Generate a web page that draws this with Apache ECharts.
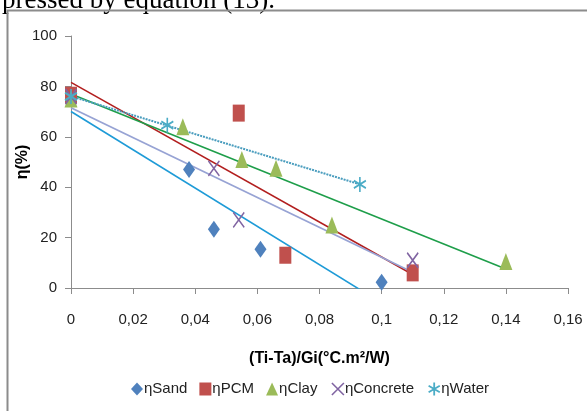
<!DOCTYPE html>
<html><head><meta charset="utf-8">
<script src="https://cdn.jsdelivr.net/npm/echarts@6/dist/echarts.min.js"></script>
<style>html,body{margin:0;padding:0;background:#fff}#c{width:587px;height:411px}</style>
</head><body><div id="c"></div>
<script>
// Data
var sandX = [0, 0.038, 0.046, 0.061, 0.100];
var sandY = [76, 47, 23.3, 15.4, 2.3];
var pcmX = [0, 0.054, 0.069, 0.110];
var pcmY = [76.5, 69.4, 13, 6];
var clayX = [0, 0.036, 0.055, 0.066, 0.084, 0.140];
var clayY = [75, 64, 51, 47.5, 25, 10.5];
var concreteX = [0, 0.046, 0.054, 0.110];
var concreteY = [76, 47.5, 27, 11];
var waterX = [0, 0.031, 0.093];
var waterY = [76, 64.6, 41.1];
var seriesNames = ['ηSand', 'ηPCM', 'ηClay', 'ηConcrete', 'ηWater'];
var xTicks = ['0', '0,02', '0,04', '0,06', '0,08', '0,1', '0,12', '0,14', '0,16'];
var yTicks = ['0', '20', '40', '60', '80', '100'];

function pairs(xs, ys) { return xs.map(function (x, i) { return [x, ys[i]]; }); }
// Linear least-squares trendline (as the spreadsheet trendline does), drawn from x=0 to last x
function trend(xs, ys) {
  var n = xs.length, mx = 0, my = 0;
  for (var i = 0; i < n; i++) { mx += xs[i]; my += ys[i]; }
  mx /= n; my /= n;
  var sxx = 0, sxy = 0;
  for (var j = 0; j < n; j++) { sxx += (xs[j] - mx) * (xs[j] - mx); sxy += (xs[j] - mx) * (ys[j] - my); }
  var b = sxy / sxx, a = my - b * mx;
  var x0 = 0, x1 = Math.max.apply(null, xs);
  return [[x0, a + b * x0], [x1, a + b * x1]];
}

var F = "'Liberation Sans',Arial,sans-serif";
var xPath = 'path://M0,0L10,10M10,0L0,10';
var starPath = 'path://M5,0L5,10M0.7,2.5L9.3,7.5M0.7,7.5L9.3,2.5';

var markerDefs = [
  {x: sandX, y: sandY, symbol: 'diamond', size: [12, 17], style: {color: '#4F81BD'}, line: '#1E9BD7', dash: 'solid', w: 1.6},
  {x: pcmX, y: pcmY, symbol: 'rect', size: [12, 17], style: {color: '#C0504D'}, line: '#B21E1E', dash: 'solid', w: 1.6},
  {x: clayX, y: clayY, symbol: 'triangle', size: [13, 17], style: {color: '#9BBB59'}, line: '#1E9E4A', dash: 'solid', w: 1.6},
  {x: concreteX, y: concreteY, symbol: xPath, size: [11, 15], style: {color: 'none', borderColor: '#8064A2', borderWidth: 1.6}, line: '#97A3D4', dash: 'solid', w: 1.8},
  {x: waterX, y: waterY, symbol: starPath, size: [12, 15], style: {color: 'none', borderColor: '#4BACC6', borderWidth: 1.8}, line: '#4A9DBE', dash: [2, 1], w: 2}
];

var series = [];
markerDefs.forEach(function (d, i) {
  series.push({
    name: seriesNames[i], type: 'line', data: trend(d.x, d.y), showSymbol: false, symbol: 'none',
    lineStyle: {color: d.line, width: d.w, type: d.dash}, silent: true, z: 2, clip: true
  });
});
markerDefs.forEach(function (d, i) {
  series.push({
    name: seriesNames[i], type: 'scatter', data: pairs(d.x, d.y), symbol: d.symbol, symbolSize: d.size,
    itemStyle: Object.assign({opacity: 1}, d.style), z: 3
  });
});

var chart = echarts.init(document.getElementById('c'), null, {renderer: 'canvas'});
chart.setOption({
  backgroundColor: '#fff',
  animation: false,
  graphic: [
    {type: 'text', left: 2, top: -13, style: {text: 'pressed by equation (13).', font: "27px 'Liberation Serif','Times New Roman',serif", fill: '#000'}},
    {type: 'polyline', shape: {points: [[7.5, 411], [7.5, 10.5], [587, 10.5]]}, style: {stroke: '#8c8c8c', lineWidth: 2, fill: 'none'}}
  ],
  grid: {left: 71, right: 19, top: 36, bottom: 123, containLabel: false},
  legend: {
    bottom: 8, left: 126, itemGap: 12, itemWidth: 12, itemHeight: 13,
    textStyle: {fontFamily: F, fontSize: 15, color: '#222', padding: [0, 0, 0, -4]},
    data: markerDefs.map(function (d, i) { return {name: seriesNames[i], icon: d.symbol, itemStyle: d.style}; })
  },
  xAxis: {
    type: 'value', min: 0, max: 0.16, interval: 0.02,
    name: '(Ti-Ta)/Gi(°C.m²/W)', nameLocation: 'middle', nameGap: 63, nameMoveOverlap: false,
    nameTextStyle: {fontFamily: F, fontSize: 16, fontWeight: 'bold', color: '#000'},
    axisLine: {lineStyle: {color: '#8c8c8c'}}, axisTick: {show: true, length: 6, lineStyle: {color: '#8c8c8c'}},
    splitLine: {show: false},
    axisLabel: {fontFamily: F, fontSize: 15, color: '#222', margin: 24, formatter: function (v) { return xTicks[Math.round(v / 0.02)]; }}
  },
  yAxis: {
    type: 'value', min: 0, max: 100, interval: 20,
    name: 'η(%)', nameLocation: 'middle', nameGap: 40, nameRotate: 90, nameMoveOverlap: false,
    nameTextStyle: {fontFamily: F, fontSize: 16, fontWeight: 'bold', color: '#000'},
    axisLine: {show: true, lineStyle: {color: '#8c8c8c'}}, axisTick: {show: true, length: 6, lineStyle: {color: '#8c8c8c'}},
    splitLine: {show: false},
    axisLabel: {fontFamily: F, fontSize: 15, color: '#222', margin: 14, formatter: function (v) { return yTicks[Math.round(v / 20)]; }}
  },
  series: series
});
</script></body></html>
